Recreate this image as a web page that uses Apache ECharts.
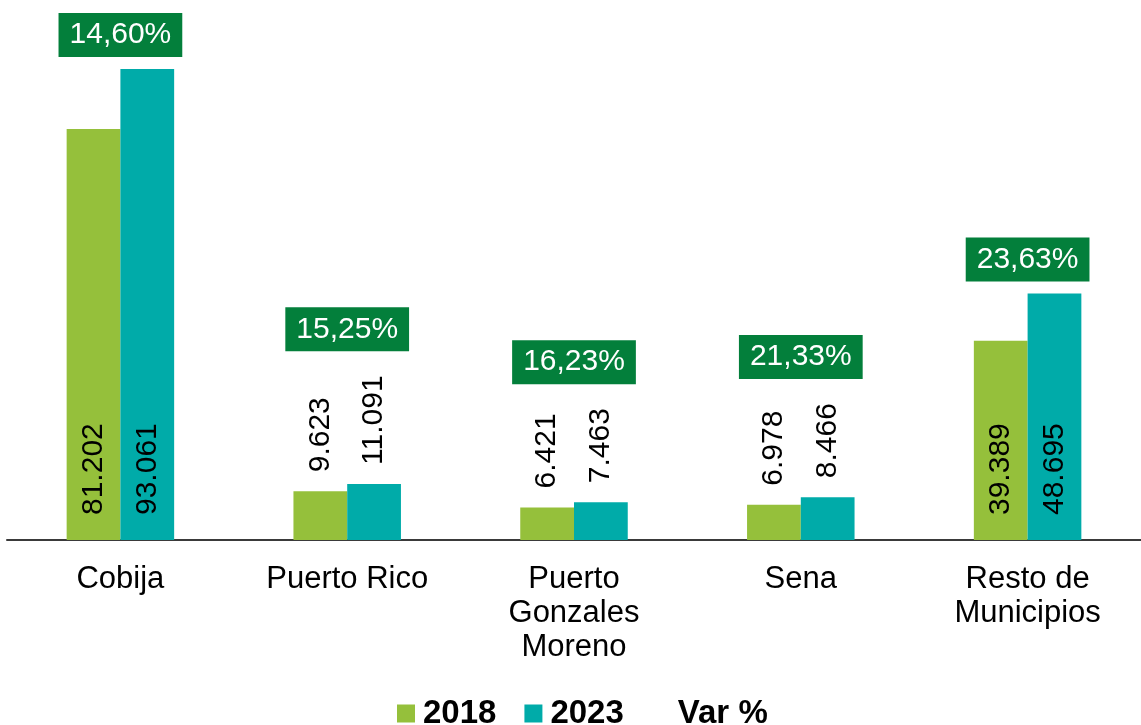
<!DOCTYPE html>
<html>
<head>
<meta charset="utf-8">
<script src="https://cdn.jsdelivr.net/npm/echarts@6/dist/echarts.min.js"></script>
<style>
  html, body { margin: 0; padding: 0; background: #fff; }
  #main { width: 1141px; height: 725px; }
</style>
</head>
<body>
<div id="main"></div>
<script>
    var categories = ['Cobija', 'Puerto Rico', 'Puerto\nGonzales\nMoreno', 'Sena', 'Resto de\nMunicipios'];
    var values2018 = [81202, 9623, 6421, 6978, 39389];
    var values2023 = [93061, 11091, 7463, 8466, 48695];
    var varPct = [14.60, 15.25, 16.23, 21.33, 23.63];

    var FONT = "'Liberation Sans', Arial, sans-serif";
    var LABEL_SIZE = 30;

    // dot as thousands separator
    function fmt(v) {
        return String(v).replace(/\B(?=(\d{3})+(?!\d))/g, '.');
    }

    var ctx = document.createElement('canvas').getContext('2d');
    ctx.font = LABEL_SIZE + 'px ' + FONT;
    function textLen(s) {
        return ctx.measureText(s).width;
    }

    // tall bars keep their label inside, short bars get it above
    function isInside(v) {
        return v > 20000;
    }

    function barData(vals) {
        return vals.map(function (v) {
            if (isInside(v)) {
                return {value: v, label: {position: 'insideBottom', distance: 25}};
            }
            return {value: v, label: {position: 'top', distance: 19}};
        });
    }

    var varData = categories.map(function (c, i) {
        var top = Math.max(values2018[i], values2023[i]);
        var gap = 12;
        if (!isInside(values2023[i]) || !isInside(values2018[i])) {
            gap = 19 + Math.max(textLen(fmt(values2018[i])), textLen(fmt(values2023[i]))) + 24;
        }
        return {value: [i, top], label: {distance: gap}};
    });

    var chart = echarts.init(document.getElementById('main'));
    var option = {
        animation: false,
        textStyle: {fontFamily: FONT},
        grid: {left: 7, width: 1140, top: 34, bottom: 185},
        legend: {
            left: 392,
            top: 692,
            itemWidth: 18,
            itemHeight: 18,
            itemGap: 28,
            textStyle: {fontSize: 33, fontWeight: 'bold', color: '#000', fontFamily: FONT, padding: [0, 0, 0, 3]},
            data: [
                {name: '2018', icon: 'rect'},
                {name: '2023', icon: 'rect'},
                {name: 'Var %', icon: 'rect', itemStyle: {color: 'rgba(0,0,0,0)'}}
            ]
        },
        xAxis: {
            type: 'category',
            data: categories,
            axisLine: {lineStyle: {color: '#3a3a3a', width: 2}},
            axisTick: {show: false},
            axisLabel: {
                fontSize: 31,
                color: '#000',
                lineHeight: 34,
                margin: 22,
                interval: 0
            }
        },
        yAxis: {
            type: 'value',
            min: 0,
            max: 100000,
            show: false,
            splitLine: {show: false}
        },
        series: [
            {
                name: '2018',
                type: 'bar',
                data: barData(values2018),
                barGap: '0%',
                barCategoryGap: '52.6%',
                itemStyle: {color: '#95C03B'},
                label: {
                    show: true,
                    rotate: 90,
                    align: 'left',
                    verticalAlign: 'middle',
                    fontSize: LABEL_SIZE,
                    color: '#000',
                    formatter: function (p) { return fmt(p.value); }
                }
            },
            {
                name: '2023',
                type: 'bar',
                data: barData(values2023),
                barGap: '0%',
                barCategoryGap: '52.6%',
                itemStyle: {color: '#00ABA9'},
                label: {
                    show: true,
                    rotate: 90,
                    align: 'left',
                    verticalAlign: 'middle',
                    fontSize: LABEL_SIZE,
                    color: '#000',
                    formatter: function (p) { return fmt(p.value); }
                }
            },
            {
                name: 'Var %',
                type: 'scatter',
                symbolSize: 0,
                itemStyle: {color: 'rgba(0,0,0,0)', opacity: 1},
                data: varData,
                label: {
                    show: true,
                    position: 'top',
                    fontSize: 30,
                    lineHeight: 32,
                    color: '#fff',
                    backgroundColor: '#037F3B',
                    padding: [6, 11, 6, 11],
                    formatter: function (p) {
                        return varPct[p.dataIndex].toFixed(2).replace('.', ',') + '%';
                    }
                }
            }
        ]
    };
    chart.setOption(option);
</script>
</body>
</html>
